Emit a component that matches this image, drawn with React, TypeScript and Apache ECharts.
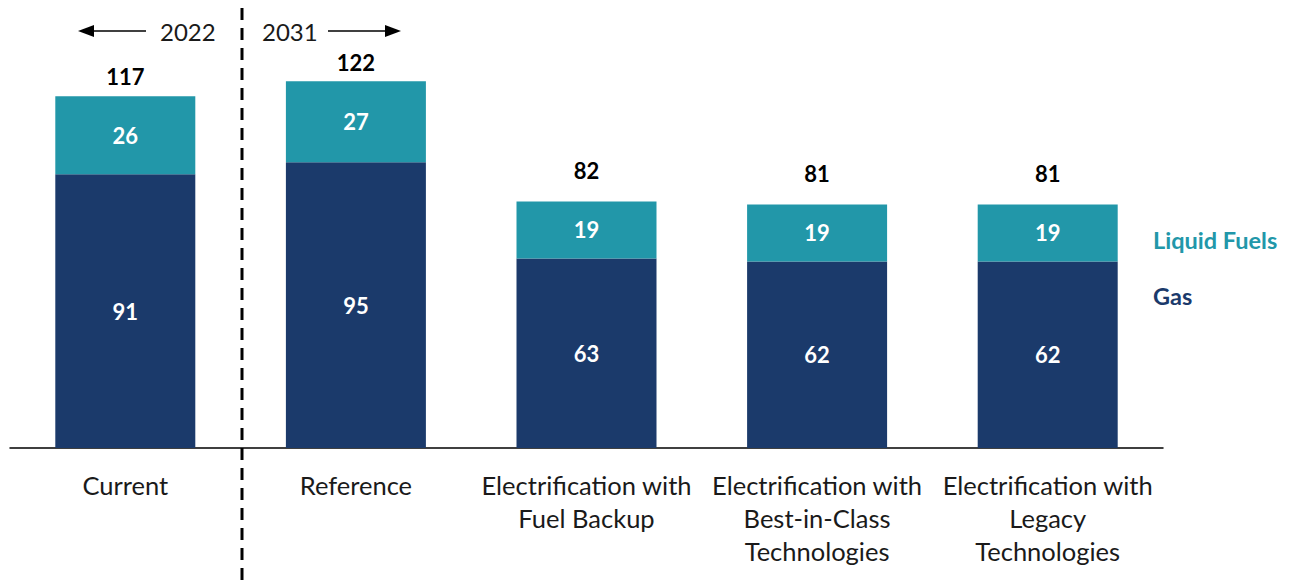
import React, { useEffect, useRef } from "react";
import * as echarts from "echarts";

const categories = [
  "Current",
  "Reference",
  "Electrification with\nFuel Backup",
  "Electrification with\nBest-in-Class\nTechnologies",
  "Electrification with\nLegacy\nTechnologies",
];
const gas = [91, 95, 63, 62, 62];
const liquidFuels = [26, 27, 19, 19, 19];
const totals = [117, 122, 82, 81, 81];

const GAS_COLOR = "#1B3A6B";
const LIQ_COLOR = "#2297A9";
const FONT = "Lato";
const totalLabelGaps = [9, 8, 20, 20, 20];

export default function App() {
  const ref = useRef<HTMLDivElement>(null);
  useEffect(() => {
    if (!ref.current) return;
    const chart = echarts.init(ref.current, null, { renderer: "svg" });
    chart.setOption({
      animation: false,
      backgroundColor: "#ffffff",
      grid: { left: 10, right: 131, top: 27, bottom: 134, containLabel: false },
      xAxis: {
        type: "category",
        data: categories,
        axisLine: { show: true, lineStyle: { color: "#000", width: 1.5 } },
        axisTick: { show: false },
        axisLabel: {
          color: "#1a1a1a",
          fontFamily: FONT,
          fontSize: 25.5,
          lineHeight: 33,
          margin: 20,
          interval: 0,
        },
      },
      yAxis: {
        type: "value",
        min: 0,
        max: 140,
        show: false,
        splitLine: { show: false },
      },
      series: [
        {
          name: "Total",
          type: "bar",
          data: totals.map((v, i) => ({
            value: v,
            label: { distance: totalLabelGaps[i] },
          })),
          barWidth: 140,
          barGap: "-100%",
          itemStyle: { color: "rgba(255,255,255,0)" },
          label: {
            show: true,
            position: "top",
            color: "#000000",
            fontFamily: FONT,
            fontWeight: "bold",
            fontSize: 22,
          },
          z: 1,
        },
        {
          name: "Gas",
          type: "bar",
          stack: "s",
          data: gas,
          barWidth: 140,
          barGap: "-100%",
          itemStyle: { color: GAS_COLOR },
          label: {
            show: true,
            position: "inside",
            color: "#fff",
            fontFamily: FONT,
            fontWeight: "bold",
            fontSize: 22,
          },
          z: 2,
        },
        {
          name: "Liquid Fuels",
          type: "bar",
          stack: "s",
          data: liquidFuels,
          barWidth: 140,
          barGap: "-100%",
          itemStyle: { color: LIQ_COLOR },
          label: {
            show: true,
            position: "inside",
            color: "#fff",
            fontFamily: FONT,
            fontWeight: "bold",
            fontSize: 22,
          },
          z: 2,
        },
      ],
      graphic: [
        {
          type: "line",
          shape: { x1: 242, y1: 8, x2: 242, y2: 582 },
          style: { stroke: "#000", lineWidth: 3, lineDash: [12, 8] },
        },
        {
          type: "line",
          shape: { x1: 90, y1: 31, x2: 146, y2: 31 },
          style: { stroke: "#000", lineWidth: 1.5 },
        },
        {
          type: "polygon",
          shape: { points: [[78, 31], [94, 25], [94, 37]] },
          style: { fill: "#000" },
        },
        {
          type: "text",
          x: 160,
          y: 31,
          style: {
            text: "2022",
            fontFamily: FONT,
            fontSize: 24,
            fill: "#1a1a1a",
            verticalAlign: "middle",
            align: "left",
          },
        },
        {
          type: "text",
          x: 262,
          y: 31,
          style: {
            text: "2031",
            fontFamily: FONT,
            fontSize: 24,
            fill: "#1a1a1a",
            verticalAlign: "middle",
            align: "left",
          },
        },
        {
          type: "line",
          shape: { x1: 328, y1: 31, x2: 390, y2: 31 },
          style: { stroke: "#000", lineWidth: 1.5 },
        },
        {
          type: "polygon",
          shape: { points: [[401, 31], [385, 25], [385, 37]] },
          style: { fill: "#000" },
        },
        {
          type: "text",
          x: 1153,
          y: 240,
          style: {
            text: "Liquid Fuels",
            fontFamily: FONT,
            fontWeight: "bold",
            fontSize: 23.5,
            fill: LIQ_COLOR,
            verticalAlign: "middle",
            align: "left",
          },
        },
        {
          type: "text",
          x: 1153,
          y: 296,
          style: {
            text: "Gas",
            fontFamily: FONT,
            fontWeight: "bold",
            fontSize: 23.5,
            fill: GAS_COLOR,
            verticalAlign: "middle",
            align: "left",
          },
        },
      ],
    });
    return () => chart.dispose();
  }, []);
  return (
    <div
      ref={ref}
      style={{ position: "fixed", left: 0, top: 0, width: 1294, height: 582, background: "#fff" }}
    />
  );
}
